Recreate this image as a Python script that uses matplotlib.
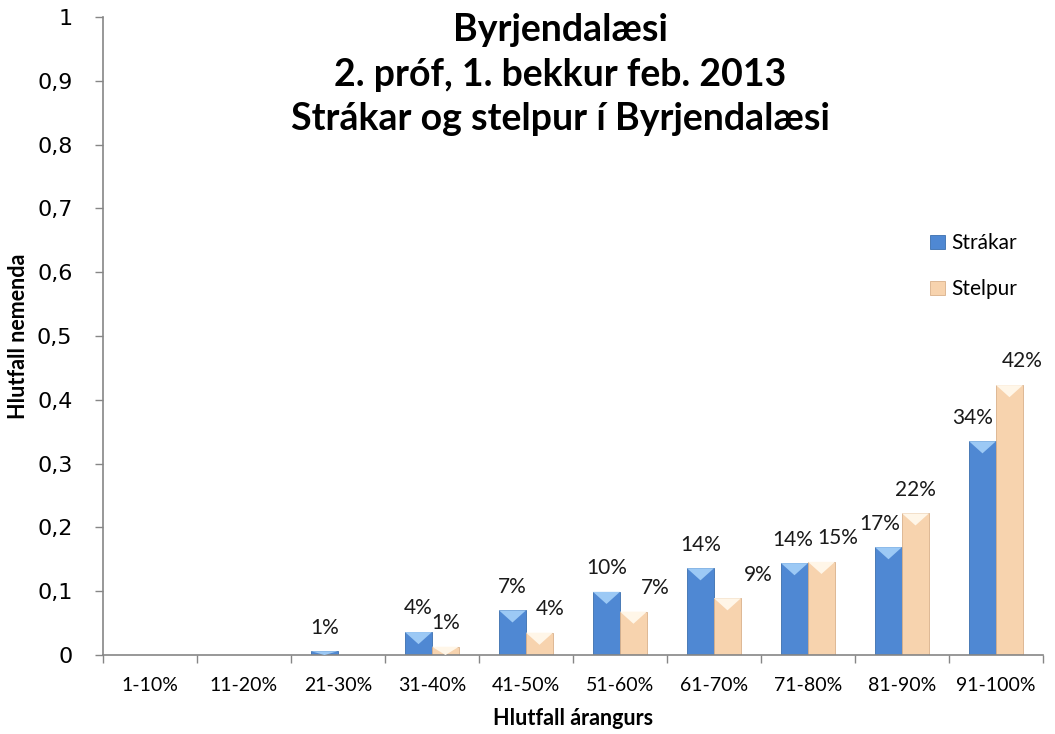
import numpy as np
import matplotlib
matplotlib.use('Agg')
import matplotlib.pyplot as plt
from matplotlib.patches import Polygon

categories = ['1-10%', '11-20%', '21-30%', '31-40%', '41-50%', '51-60%',
              '61-70%', '71-80%', '81-90%', '91-100%']
strakar = [0, 0, 0.006, 0.036, 0.07, 0.099, 0.136, 0.144, 0.169, 0.335]
stelpur = [0, 0, 0, 0.013, 0.035, 0.068, 0.089, 0.146, 0.222, 0.423]
strakar_lbl = ['', '', '1%', '4%', '7%', '10%', '14%', '14%', '17%', '34%']
stelpur_lbl = ['', '', '', '1%', '4%', '7%', '9%', '15%', '22%', '42%']

# label nudges (points), the labels were dragged by hand in the original
strakar_dx = [0, 0, 0, 0, 0, 0, 0, -1, -6, -7]
stelpur_dx = [0, 0, 0, 0, 8, 16, 22, 12, 0, 9]

blue = '#4f88d3'
blue_top = '#9cc9f5'
blue_edge = '#3b6fae'
beige = '#f7d3ae'
beige_top = '#fff6e8'
beige_edge = '#d9b08a'
FONT = 'Lato'

fig = plt.figure(figsize=(10.55, 7.34), dpi=100)
ax = fig.add_axes([0.0976, 0.1076, 0.891, 0.8694])

x = np.arange(len(categories))
w = 0.287

def draw_bars(xs, vals, col, top, edge, lbls, dxs):
    bars = ax.bar(xs, vals, w, color=col, edgecolor=edge, linewidth=0.6, zorder=2)
    depth = 0.019
    for xi, v in zip(xs, vals):
        if v <= 0:
            continue
        d = min(depth, v)
        tri = Polygon([[xi - w / 2, v], [xi + w / 2, v], [xi, v - d]],
                      closed=True, facecolor=top, edgecolor='none', zorder=3)
        ax.add_patch(tri)
    for xi, v, l, dx in zip(xs, vals, lbls, dxs):
        if l:
            ax.annotate(l, (xi, v), xytext=(dx, 17), textcoords='offset points',
                        ha='center', va='center', fontsize=15, family=FONT,
                        color='#1a1a1a')
    return bars

b1 = draw_bars(x - w / 2, strakar, blue, blue_top, blue_edge, strakar_lbl, strakar_dx)
b2 = draw_bars(x + w / 2, stelpur, beige, beige_top, beige_edge, stelpur_lbl, stelpur_dx)

ax.set_xlim(-0.5, len(categories) - 0.5)
ax.set_ylim(0, 1)
ax.set_yticks(np.arange(0, 1.01, 0.1))
ax.set_yticklabels(['0'] + ['0,%d' % i for i in range(1, 10)] + ['1'],
                   fontsize=16, family='DejaVu Sans')
ax.set_xticks(x)
ax.set_xticklabels(categories, fontsize=14, family=FONT)
ax.set_xticks(np.arange(-0.5, len(categories)), minor=True)
ax.tick_params(axis='x', which='major', length=0, pad=16)
ax.tick_params(axis='x', which='minor', length=6, color='#868686', width=1)
ax.tick_params(axis='y', length=6, color='#868686', width=1, pad=16)

for s in ['top', 'right']:
    ax.spines[s].set_visible(False)
for s in ['left', 'bottom']:
    ax.spines[s].set_color('#868686')
    ax.spines[s].set_linewidth(1.2)

ax.set_ylabel('Hlutfall nemenda', fontsize=15.5, fontweight='bold',
              family=FONT, labelpad=6)
ax.set_xlabel('Hlutfall árangurs', fontsize=15.5, fontweight='bold',
              family=FONT, labelpad=10)

fig.text(0.531, 0.982, 'Byrjendalæsi\n2. próf, 1. bekkur feb. 2013\nStrákar og stelpur í Byrjendalæsi',
         ha='center', va='top', fontsize=27, fontweight='bold',
         family=FONT, linespacing=1.375)

leg = ax.legend([b1, b2], ['Strákar', 'Stelpur'], loc='upper left',
                bbox_to_anchor=(0.86, 0.69), frameon=False, handlelength=0.7,
                handleheight=0.7, handletextpad=0.3, labelspacing=1.25,
                prop={'family': FONT, 'size': 15})

fig.savefig('out.png', dpi=100)
